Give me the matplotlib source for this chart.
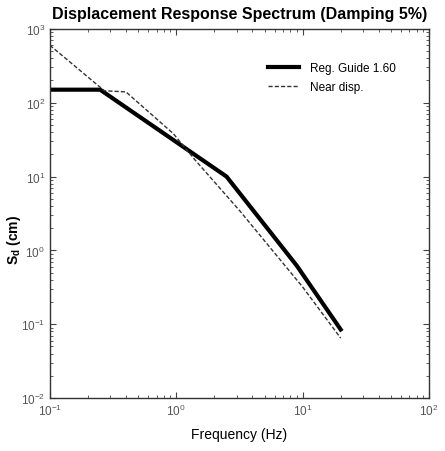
import matplotlib
matplotlib.use('Agg')
import matplotlib.pyplot as plt
import matplotlib.ticker as ticker

# Reg. Guide 1.60 design spectrum (corner points)
rg_freq = [0.1, 0.25, 2.5, 9.0, 20.0]
rg_sd = [150.0, 150.0, 10.0, 0.62, 0.085]

# near-fault displacement record spectrum
nd_freq = [0.1, 0.27, 0.40, 0.95, 1.4, 3.2, 10.0, 20.0]
nd_sd = [600.0, 145.0, 140.0, 38.0, 17.0, 3.4, 0.32, 0.065]

plt.rcParams['font.family'] = ['Liberation Sans', 'DejaVu Sans']

fig = plt.figure(figsize=(4.45, 4.52), dpi=100)
ax = fig.add_axes([0.112, 0.117, 0.852, 0.817])

ax.loglog(rg_freq, rg_sd, '-', color='black', linewidth=3.0, label='Reg. Guide 1.60')
ax.loglog(nd_freq, nd_sd, '--', color='#333333', linewidth=1.0,
          dashes=(3, 1.5), label='Near disp.')

ax.set_xlim(0.1, 100)
ax.set_ylim(0.01, 1000)

ax.xaxis.set_major_locator(ticker.LogLocator(base=10, numticks=10))
ax.yaxis.set_major_locator(ticker.LogLocator(base=10, numticks=10))
ax.xaxis.set_minor_locator(ticker.LogLocator(base=10, subs=range(2, 10), numticks=20))
ax.yaxis.set_minor_locator(ticker.LogLocator(base=10, subs=range(2, 10), numticks=20))
ax.tick_params(which='both', direction='in', top=True, right=True,
               labelsize=8.5, labelcolor='#555555', color='#444444')
ax.tick_params(which='major', length=4, width=0.8)
ax.tick_params(which='minor', length=2, width=0.6)
for s in ax.spines.values():
    s.set_linewidth(1.0)
    s.set_color('#333333')

ax.set_title('Displacement Response Spectrum (Damping 5%)',
             fontsize=11.5, fontweight='bold', pad=8)
ax.set_xlabel('Frequency (Hz)', fontsize=10, labelpad=6)
ax.set_ylabel(r'S$_\mathregular{d}$ (cm)', fontsize=10, fontweight='bold')
ax.yaxis.set_label_coords(-0.071, 0.43)

leg = ax.legend(loc='upper left', frameon=False, fontsize=8.5,
                handlelength=2.6, handletextpad=1.0, labelspacing=0.6,
                borderaxespad=0, borderpad=0, bbox_to_anchor=(0.575, 0.91))

fig.savefig('out.png', dpi=100)
